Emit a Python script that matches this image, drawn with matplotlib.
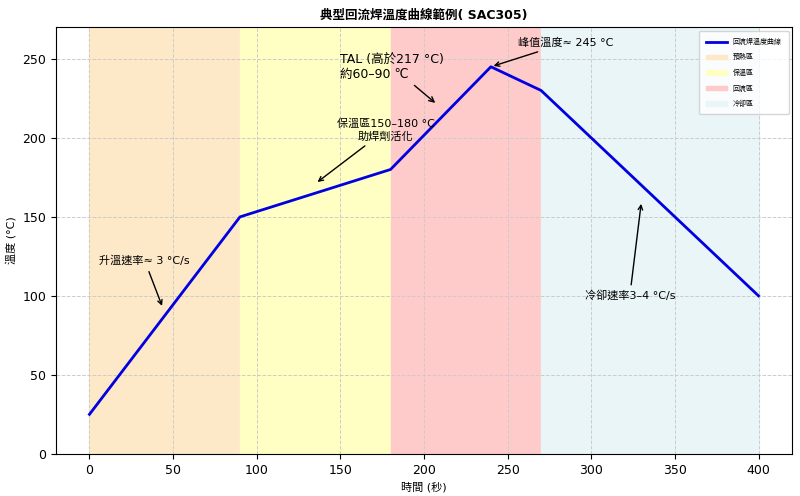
import matplotlib.pyplot as plt

plt.rcParams['font.family'] = ['DejaVu Sans', 'Noto Sans CJK TC']

# 曲線數據
time_s = [0, 90, 180, 240, 270, 400]
temp_c = [25, 150, 180, 245, 230, 100]

zone_names = ["預熱區", "保溫區", "回流區", "冷卻區"]
zone_bounds = [(0, 90), (90, 180), (180, 270), (270, 400)]
zone_colors = ["#fde8c8", "#ffffc4", "#ffcaca", "#eaf5f8"]


def main():
    fig, ax = plt.subplots(figsize=(8, 4.96), dpi=100)

    ax.plot(time_s, temp_c, color="#0000e0", lw=2, label="回流焊溫度曲線", zorder=3)
    for name, (a, b), c in zip(zone_names, zone_bounds, zone_colors):
        ax.axvspan(a, b, color=c, label=name, zorder=0)

    arrow = dict(arrowstyle="->", color="black", lw=1)
    ax.annotate("升溫速率≈ 3 °C/s", xy=(44, 92), xytext=(6, 120),
                fontsize=8, arrowprops=arrow)
    ax.annotate("保溫區150–180 °C\n助焊劑活化", xy=(135, 171), xytext=(177, 199),
                fontsize=8, ha="center", arrowprops=arrow)
    ax.annotate("TAL (高於217 °C)\n約60–90 ℃", xy=(208, 221), xytext=(150, 238),
                fontsize=9, arrowprops=arrow)
    ax.annotate("峰值溫度≈ 245 °C", xy=(240, 245), xytext=(256, 258),
                fontsize=8, arrowprops=arrow)
    ax.annotate("冷卻速率3–4 °C/s", xy=(330, 160), xytext=(296, 98),
                fontsize=8, arrowprops=arrow)

    ax.set_xlim(-20, 420)
    ax.set_ylim(0, 270)
    ax.set_title("典型回流焊溫度曲線範例( SAC305)", fontsize=9, fontweight="bold")
    ax.set_xlabel("時間 (秒)", fontsize=8)
    ax.set_ylabel("溫度 (°C)", fontsize=8)
    ax.tick_params(labelsize=9)
    ax.grid(True, ls="--", color="#cccccc", lw=0.7)
    ax.legend(loc="upper right", fontsize=5, handlelength=3, borderpad=1, labelspacing=1.2)

    fig.subplots_adjust(left=0.07, right=0.99, top=0.945, bottom=0.085)
    fig.savefig("out.png")


if __name__ == "__main__":
    main()
